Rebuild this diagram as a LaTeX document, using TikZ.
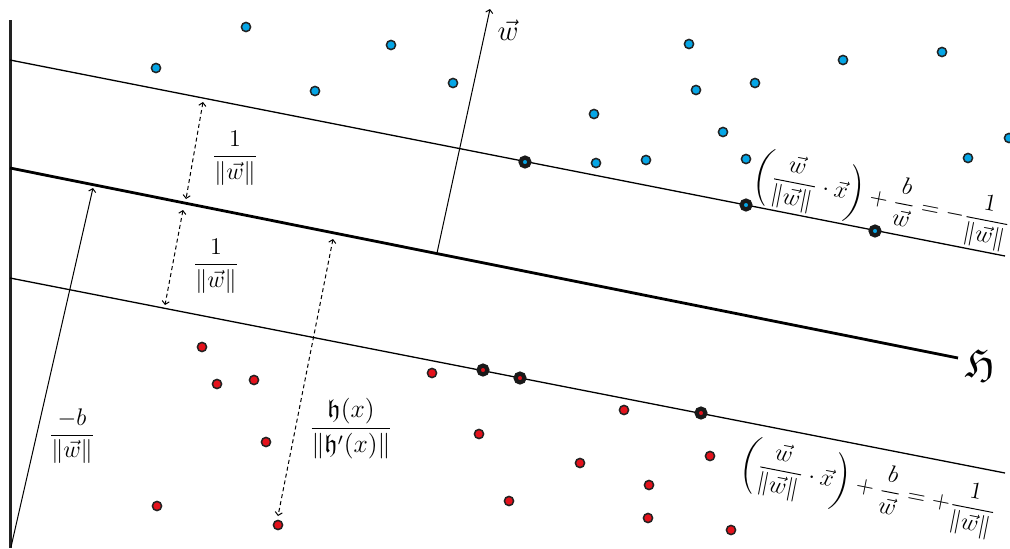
\documentclass[tikz,border=0pt]{standalone}
\usepackage{amsmath,amssymb}
\usetikzlibrary{arrows.meta}

\definecolor{posblue}{HTML}{05A6E6}
\definecolor{negred}{HTML}{E5121C}
\definecolor{rim}{HTML}{222222}

\tikzset{
  dot/.style={circle, draw=rim, line width=0.75pt, inner sep=0pt, minimum size=4.6pt},
  bluedot/.style={dot, fill=posblue},
  reddot/.style={dot, fill=negred},
  supvec/.style={circle, draw=black!90, line width=2.1pt, inner sep=0pt, minimum size=4.4pt},
  margin/.style={line width=0.65pt},
  distarrow/.style={<->, dashed, line width=0.5pt, dash pattern=on 2pt off 1.5pt},
  lbl/.style={font=\large, inner sep=0pt}
}

\begin{document}
\begin{tikzpicture}[x=0.5pt, y=-0.5pt, >={Straight Barb[length=1.6pt,width=3.6pt]}]
    \useasboundingbox (0,0) rectangle (1010,548);

    % Axis
    \coordinate (AT) at (10, 20);
    \coordinate (AB) at (10, 548);
    \draw[line width=1.5pt, rim] (AT) -- (AB);

    % Margins and hyperplane
    \coordinate (UL) at (10, 60);  \coordinate (UR) at (1005, 256);
    \coordinate (HL) at (10, 168); \coordinate (HR) at (958, 358);
    \coordinate (LL) at (10, 278); \coordinate (LR) at (1005, 473);
    \draw[margin] (UL) -- (UR);
    \draw[line width=1.4pt] (HL) -- (HR);
    \draw[margin] (LL) -- (LR);
    \node[lbl, font=\huge] (Hlab) at (980, 364) {$\mathfrak{H}$};

    % Normal vector
    \coordinate (W0) at (437, 253);
    \coordinate (W1) at (490, 9);
    \draw[->, line width=0.5pt] (W0) -- (W1);
    \node[lbl, font=\Large] (wlab) at (508, 30) {$\vec{w}$};

    % Offset
    \coordinate (B0) at (11, 547);
    \coordinate (B1) at (93, 188);
    \draw[->, line width=0.5pt] (B0) -- (B1);
    \node[lbl] (blab) at (72, 436) {$\dfrac{-b}{\|\vec{w}\|}$};

    % Distances
    \coordinate (D1a) at (203, 102); \coordinate (D1b) at (186, 199);
    \coordinate (D2a) at (183, 210); \coordinate (D2b) at (165, 305);
    \coordinate (D3a) at (333, 239); \coordinate (D3b) at (278, 516);
    \draw[distarrow] (D1a) -- (D1b);
    \draw[distarrow] (D2a) -- (D2b);
    \draw[distarrow] (D3a) -- (D3b);
    \node[lbl] (d1lab) at (235, 158) {$\dfrac{1}{\|\vec{w}\|}$};
    \node[lbl] (d2lab) at (216, 266) {$\dfrac{1}{\|\vec{w}\|}$};
    \node[lbl, scale=1.07] (d3lab) at (351, 429) {$\dfrac{\mathfrak{h}(x)}{\|\mathfrak{h}'(x)\|}$};

    % Margin equations
    \node[lbl, rotate=-11.1] (equp) at (882, 200)
      {$\left(\dfrac{\vec{w}}{\|\vec{w}\|}\cdot\vec{x}\right)+\dfrac{b}{\vec{w}}=-\dfrac{1}{\|\vec{w}\|}$};
    \node[lbl, rotate=-11.1] (eqlo) at (868, 488)
      {$\left(\dfrac{\vec{w}}{\|\vec{w}\|}\cdot\vec{x}\right)+\dfrac{b}{\vec{w}}=+\dfrac{1}{\|\vec{w}\|}$};

    % Positive samples
    \foreach \px/\py [count=\i] in {156/68, 246/27, 315/91, 391/45, 453/83, 689/44,
        594/114, 696/90, 755/83, 723/132, 596/163, 646/160, 746/159, 843/60,
        942/52, 1009/138, 968/158}
      \node[bluedot] (p\i) at (\px, \py) {};
    \foreach \px/\py [count=\i] in {525/162, 746/205, 875/231}
      \node[supvec, fill=posblue] (ps\i) at (\px, \py) {};

    % Negative samples
    \foreach \px/\py [count=\i] in {202/347, 217/384, 254/380, 266/442, 157/506,
        278/525, 432/373, 624/410, 479/434, 580/463, 710/456, 649/485, 509/501,
        648/518, 731/530}
      \node[reddot] (n\i) at (\px, \py) {};
    \foreach \px/\py [count=\i] in {483/370, 520/378, 701/413}
      \node[supvec, fill=negred] (ns\i) at (\px, \py) {};
\end{tikzpicture}
\end{document}
